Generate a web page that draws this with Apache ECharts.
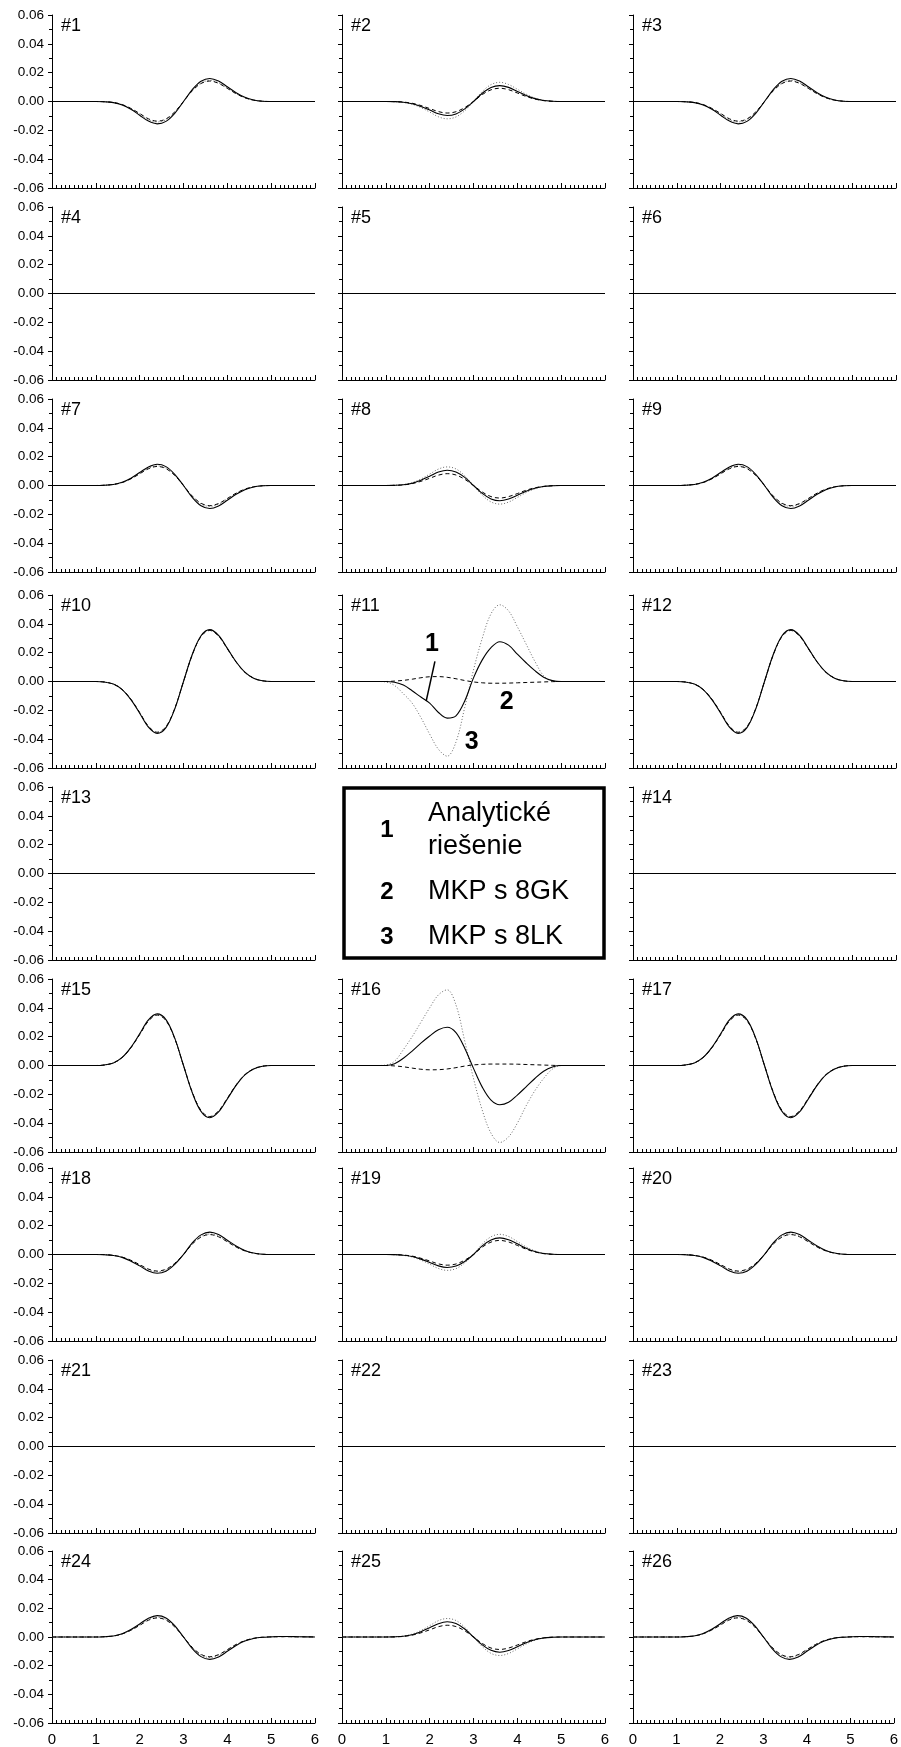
<!DOCTYPE html>
<html>
<head>
<meta charset="utf-8">
<script src="https://cdn.jsdelivr.net/npm/echarts@6/dist/echarts.min.js"></script>
<style>
  html, body { margin: 0; padding: 0; background: #fff; }
  #chart { width: 901px; height: 1747px; }
</style>
</head>
<body>
<div id="chart"></div>
<script>
// Sample positions along the beam (x from 0 to 6, step 0.2)
const X = [0, 0.2, 0.4, 0.6, 0.8, 1.0, 1.2, 1.4, 1.6, 1.8, 2.0, 2.2, 2.4, 2.6, 2.8, 3.0,
           3.2, 3.4, 3.6, 3.8, 4.0, 4.2, 4.4, 4.6, 4.8, 5.0, 5.2, 5.4, 5.6, 5.8, 6.0];

const ZERO = [0,0,0,0,0,0,0,0,0,0,0,0,0,0,0,0,0,0,0,0,0,0,0,0,0,0,0,0,0,0,0];

// Panels #1, #3
const ROW1_AN = [0,0,0,0,0,0, -0.0002,-0.0008,-0.0024,-0.0054,-0.0095,-0.0136,-0.0155,-0.0138,-0.0082,0.0000,
                 0.0083,0.0141,0.0160,0.0142,0.0102,0.0061,0.0029,0.0010,0.0002,0, 0,0,0,0,0];
const ROW1_GK = [0,0,0,0,0,0, -0.0002,-0.0007,-0.0021,-0.0048,-0.0083,-0.0120,-0.0136,-0.0121,-0.0072,0.0000,
                 0.0074,0.0125,0.0142,0.0126,0.0091,0.0054,0.0026,0.0009,0.0002,0, 0,0,0,0,0];
const ROW1_LK = [0,0,0,0,0,0, -0.0002,-0.0007,-0.0022,-0.0050,-0.0087,-0.0125,-0.0142,-0.0126,-0.0075,0.0000,
                 0.0076,0.0128,0.0146,0.0130,0.0093,0.0055,0.0026,0.0009,0.0002,0, 0,0,0,0,0];

// Panel #2
const P2_AN = [0,0,0,0,0,0, -0.0001,-0.0005,-0.0015,-0.0034,-0.0059,-0.0085,-0.0097,-0.0086,-0.0051,0.0000,
               0.0057,0.0097,0.0110,0.0098,0.0070,0.0042,0.0020,0.0007,0.0002,0, 0,0,0,0,0];
const P2_GK = [0,0,0,0,0,0, -0.0001,-0.0004,-0.0012,-0.0028,-0.0049,-0.0070,-0.0080,-0.0071,-0.0042,0.0000,
               0.0048,0.0081,0.0092,0.0082,0.0059,0.0035,0.0017,0.0006,0.0001,0, 0,0,0,0,0];
const P2_LK = [0,0,0,0,0,0, -0.0001,-0.0006,-0.0019,-0.0042,-0.0073,-0.0106,-0.0120,-0.0107,-0.0064,0.0000,
               0.0069,0.0117,0.0133,0.0118,0.0085,0.0051,0.0024,0.0009,0.0002,0, 0,0,0,0,0];

// Panels #7, #9
const ROW3_AN = [0,0,0,0,0,0, 0.0002,0.0007,0.0023,0.0051,0.0090,0.0129,0.0147,0.0131,0.0078,0.0000,
                 -0.0083,-0.0141,-0.0160,-0.0142,-0.0102,-0.0061,-0.0029,-0.0010,-0.0002,0, 0,0,0,0,0];
const ROW3_GK = [0,0,0,0,0,0, 0.0002,0.0007,0.0020,0.0046,0.0081,0.0116,0.0132,0.0117,0.0070,0.0000,
                 -0.0073,-0.0123,-0.0140,-0.0125,-0.0090,-0.0053,-0.0025,-0.0009,-0.0002,0, 0,0,0,0,0];
const ROW3_LK = [0,0,0,0,0,0, 0.0002,0.0007,0.0021,0.0048,0.0083,0.0120,0.0136,0.0121,0.0072,0.0000,
                 -0.0075,-0.0128,-0.0145,-0.0129,-0.0093,-0.0055,-0.0026,-0.0009,-0.0002,0, 0,0,0,0,0];

// Panels #8, #25
const P8_AN = [0,0,0,0,0,0, 0.0001,0.0005,0.0016,0.0037,0.0065,0.0093,0.0106,0.0094,0.0056,0.0000,
               -0.0055,-0.0093,-0.0106,-0.0094,-0.0068,-0.0040,-0.0019,-0.0007,-0.0002,0, 0,0,0,0,0];
const P8_GK = [0,0,0,0,0,0, 0.0001,0.0004,0.0013,0.0029,0.0050,0.0072,0.0082,0.0073,0.0043,0.0000,
               -0.0045,-0.0077,-0.0087,-0.0077,-0.0056,-0.0033,-0.0016,-0.0006,-0.0001,0, 0,0,0,0,0];
const P8_LK = [0,0,0,0,0,0, 0.0002,0.0006,0.0020,0.0045,0.0079,0.0114,0.0129,0.0115,0.0068,0.0000,
               -0.0067,-0.0114,-0.0129,-0.0115,-0.0083,-0.0049,-0.0023,-0.0008,-0.0002,0, 0,0,0,0,0];

// Panels #10, #12
const ROW4_AN = [0,0,0,0,0,0, -0.0004,-0.0018,-0.0056,-0.0126,-0.0220,-0.0317,-0.0360,-0.0320,-0.0191,0.0000,
                 0.0187,0.0317,0.0360,0.0320,0.0230,0.0137,0.0065,0.0023,0.0005,0, 0,0,0,0,0];
const ROW4_GK = [0,0,0,0,0,0, -0.0004,-0.0018,-0.0055,-0.0123,-0.0215,-0.0310,-0.0352,-0.0313,-0.0187,0.0000,
                 0.0184,0.0312,0.0354,0.0315,0.0227,0.0135,0.0064,0.0023,0.0005,0, 0,0,0,0,0];
const ROW4_LK = [0,0,0,0,0,0, -0.0004,-0.0018,-0.0055,-0.0125,-0.0217,-0.0313,-0.0356,-0.0317,-0.0189,0.0000,
                 0.0186,0.0315,0.0358,0.0319,0.0229,0.0136,0.0064,0.0023,0.0005,0, 0,0,0,0,0];

// Panel #11
const P11_AN = [0,0,0,0,0, 0,-0.0005,-0.0025,-0.0064,-0.0108,-0.0150,-0.0215,-0.0254,-0.0238,-0.0135,0.0025,
                0.0150,0.0235,0.0276,0.0252,0.0190,0.0130,0.0075,0.0030,0.0006,0, 0,0,0,0,0];
const P11_GK = [0,0,0,0,0, 0,0.0003,0.0008,0.0016,0.0026,0.0033,0.0034,0.0029,0.0019,0.0007,-0.0003,
                -0.0009,-0.0012,-0.0012,-0.0011,-0.0009,-0.0007,-0.0005,-0.0003,-0.0001,0, 0,0,0,0,0];
const P11_LK = [0,0,0,0,0, -0.0003,-0.0028,-0.0085,-0.0150,-0.0250,-0.0365,-0.0470,-0.0518,-0.0420,-0.0180,0.0080,
                0.0300,0.0470,0.0532,0.0490,0.0380,0.0260,0.0140,0.0040,0.0005,0, 0,0,0,0,0];

// Panels #15, #17
const ROW6_AN = [0,0,0,0,0,0, 0.0004,0.0018,0.0056,0.0126,0.0220,0.0317,0.0358,0.0318,0.0190,0.0000,
                 -0.0188,-0.0319,-0.0362,-0.0322,-0.0232,-0.0138,-0.0065,-0.0024,-0.0005,0, 0,0,0,0,0];
const ROW6_GK = [0,0,0,0,0,0, 0.0004,0.0018,0.0055,0.0123,0.0214,0.0308,0.0350,0.0311,0.0186,0.0000,
                 -0.0184,-0.0312,-0.0354,-0.0315,-0.0227,-0.0135,-0.0064,-0.0023,-0.0005,0, 0,0,0,0,0];
const ROW6_LK = [0,0,0,0,0,0, 0.0004,0.0018,0.0055,0.0124,0.0217,0.0312,0.0354,0.0315,0.0188,0.0000,
                 -0.0186,-0.0315,-0.0358,-0.0319,-0.0229,-0.0136,-0.0064,-0.0023,-0.0005,0, 0,0,0,0,0];

// Panel #16
const P16_AN = [0,0,0,0,0, 0,0.0012,0.0050,0.0100,0.0155,0.0205,0.0248,0.0265,0.0228,0.0120,-0.0020,
                -0.0150,-0.0240,-0.0272,-0.0255,-0.0205,-0.0148,-0.0090,-0.0040,-0.0010,0, 0,0,0,0,0];
const P16_GK = [0,0,0,0,0, 0,-0.0003,-0.0009,-0.0018,-0.0026,-0.0030,-0.0029,-0.0024,-0.0015,-0.0004,0.0004,
                0.0008,0.0010,0.0010,0.0010,0.0009,0.0007,0.0005,0.0003,0.0001,0, 0,0,0,0,0];
const P16_LK = [0,0,0,0,0, 0.0003,0.0030,0.0110,0.0200,0.0300,0.0400,0.0490,0.0525,0.0420,0.0170,-0.0090,
                -0.0310,-0.0470,-0.0534,-0.0495,-0.0400,-0.0280,-0.0175,-0.0090,-0.0025,0, 0,0,0,0,0];

// Panels #18, #20
const ROW7_AN = [0,0,0,0,0,0, -0.0002,-0.0007,-0.0020,-0.0046,-0.0079,-0.0114,-0.0130,-0.0116,-0.0069,0.0000,
                 0.0081,0.0136,0.0155,0.0138,0.0099,0.0059,0.0028,0.0010,0.0002,0, 0,0,0,0,0];
const ROW7_GK = [0,0,0,0,0,0, -0.0001,-0.0006,-0.0018,-0.0040,-0.0070,-0.0101,-0.0115,-0.0102,-0.0061,0.0000,
                 0.0072,0.0121,0.0138,0.0123,0.0088,0.0052,0.0025,0.0009,0.0002,0, 0,0,0,0,0];
const ROW7_LK = [0,0,0,0,0,0, -0.0001,-0.0006,-0.0019,-0.0042,-0.0073,-0.0106,-0.0120,-0.0107,-0.0064,0.0000,
                 0.0074,0.0125,0.0142,0.0126,0.0091,0.0054,0.0026,0.0009,0.0002,0, 0,0,0,0,0];

// Panel #19
const P19_AN = [0,0,0,0,0,0, -0.0001,-0.0005,-0.0014,-0.0032,-0.0055,-0.0079,-0.0090,-0.0080,-0.0048,0.0000,
                0.0060,0.0101,0.0115,0.0102,0.0074,0.0044,0.0021,0.0007,0.0002,0, 0,0,0,0,0];
const P19_GK = [0,0,0,0,0,0, -0.0001,-0.0004,-0.0011,-0.0026,-0.0045,-0.0065,-0.0074,-0.0066,-0.0039,0.0000,
                0.0051,0.0086,0.0098,0.0087,0.0063,0.0037,0.0018,0.0006,0.0001,0, 0,0,0,0,0];
const P19_LK = [0,0,0,0,0,0, -0.0001,-0.0006,-0.0017,-0.0039,-0.0067,-0.0097,-0.0110,-0.0098,-0.0058,0.0000,
                0.0073,0.0123,0.0140,0.0125,0.0090,0.0053,0.0025,0.0009,0.0002,0, 0,0,0,0,0];

// Panels #24, #26
const ROW9_AN = [0,0,0,0,0,0, 0.0002,0.0007,0.0023,0.0052,0.0091,0.0131,0.0149,0.0133,0.0079,0.0000,
                 -0.0081,-0.0137,-0.0156,-0.0139,-0.0100,-0.0059,-0.0028,-0.0010,-0.0002,0.0001, 0.0003,0.0003,0.0002,0.0001,0];
const ROW9_GK = [0,0,0,0,0,0, 0.0002,0.0007,0.0021,0.0047,0.0081,0.0117,0.0133,0.0118,0.0070,0.0000,
                 -0.0072,-0.0121,-0.0138,-0.0123,-0.0088,-0.0052,-0.0025,-0.0009,-0.0002,0.0001, 0.0002,0.0002,0.0001,0.0001,0];
const ROW9_LK = [0,0,0,0,0,0, 0.0002,0.0007,0.0021,0.0048,0.0084,0.0121,0.0137,0.0122,0.0073,0.0000,
                 -0.0074,-0.0126,-0.0143,-0.0127,-0.0092,-0.0054,-0.0026,-0.0009,-0.0002,0.0001, 0.0002,0.0002,0.0001,0.0001,0];

const Y_TICKS = [-0.06, -0.04, -0.02, 0, 0.02, 0.04, 0.06];
const X_TICKS = [0, 1, 2, 3, 4, 5, 6];

const SERIES_NAMES = ['Analytické riešenie', 'MKP s 8GK', 'MKP s 8LK'];
const LEGEND_NUMS = ['1', '2', '3'];

// Panel layout: label, row, column and the three curves (analytic, GK, LK)
const panels = [
  { label: '#1',  row: 0, col: 0, curves: [ROW1_AN, ROW1_GK, ROW1_LK] },
  { label: '#2',  row: 0, col: 1, curves: [P2_AN, P2_GK, P2_LK] },
  { label: '#3',  row: 0, col: 2, curves: [ROW1_AN, ROW1_GK, ROW1_LK] },
  { label: '#4',  row: 1, col: 0, curves: [ZERO, ZERO, ZERO] },
  { label: '#5',  row: 1, col: 1, curves: [ZERO, ZERO, ZERO] },
  { label: '#6',  row: 1, col: 2, curves: [ZERO, ZERO, ZERO] },
  { label: '#7',  row: 2, col: 0, curves: [ROW3_AN, ROW3_GK, ROW3_LK] },
  { label: '#8',  row: 2, col: 1, curves: [P8_AN, P8_GK, P8_LK] },
  { label: '#9',  row: 2, col: 2, curves: [ROW3_AN, ROW3_GK, ROW3_LK] },
  { label: '#10', row: 3, col: 0, curves: [ROW4_AN, ROW4_GK, ROW4_LK] },
  { label: '#11', row: 3, col: 1, curves: [P11_AN, P11_GK, P11_LK] },
  { label: '#12', row: 3, col: 2, curves: [ROW4_AN, ROW4_GK, ROW4_LK] },
  { label: '#13', row: 4, col: 0, curves: [ZERO, ZERO, ZERO] },
  { label: '#14', row: 4, col: 2, curves: [ZERO, ZERO, ZERO] },
  { label: '#15', row: 5, col: 0, curves: [ROW6_AN, ROW6_GK, ROW6_LK] },
  { label: '#16', row: 5, col: 1, curves: [P16_AN, P16_GK, P16_LK] },
  { label: '#17', row: 5, col: 2, curves: [ROW6_AN, ROW6_GK, ROW6_LK] },
  { label: '#18', row: 6, col: 0, curves: [ROW7_AN, ROW7_GK, ROW7_LK] },
  { label: '#19', row: 6, col: 1, curves: [P19_AN, P19_GK, P19_LK] },
  { label: '#20', row: 6, col: 2, curves: [ROW7_AN, ROW7_GK, ROW7_LK] },
  { label: '#21', row: 7, col: 0, curves: [ZERO, ZERO, ZERO] },
  { label: '#22', row: 7, col: 1, curves: [ZERO, ZERO, ZERO] },
  { label: '#23', row: 7, col: 2, curves: [ZERO, ZERO, ZERO] },
  { label: '#24', row: 8, col: 0, curves: [ROW9_AN, ROW9_GK, ROW9_LK] },
  { label: '#25', row: 8, col: 1, curves: [P8_AN, P8_GK, P8_LK] },
  { label: '#26', row: 8, col: 2, curves: [ROW9_AN, ROW9_GK, ROW9_LK] }
];

// Geometry
const COL_LEFT = [52, 342, 633];
const PLOT_W = 263;
const ROW_TOP = [15, 207, 399, 595, 787, 979, 1168, 1360, 1551];
const PLOT_H = 173;
const LAST_ROW = 8;
const FONT = 'Arial, "Liberation Sans", Helvetica, sans-serif';

const LINE_STYLES = [
  { color: '#000', type: 'solid', width: 1.1, z: 4 },
  { color: '#000', type: [4, 3], width: 1, z: 3 },
  { color: '#6a6a6a', type: [1, 2], width: 1, z: 2 }
];

const grids = [], xAxes = [], yAxes = [], series = [], titles = [];

panels.forEach((p, i) => {
  grids.push({ left: COL_LEFT[p.col], top: ROW_TOP[p.row], width: PLOT_W, height: PLOT_H });
  xAxes.push({
    gridIndex: i, type: 'value', min: X_TICKS[0], max: X_TICKS[X_TICKS.length - 1], interval: 1,
    axisLine: { onZero: false, lineStyle: { color: '#000', width: 1 } },
    axisTick: { inside: true, length: 5, lineStyle: { color: '#000', width: 1 } },
    minorTick: { show: true, splitNumber: 10, length: 3, lineStyle: { color: '#000', width: 1 } },
    splitLine: { show: false },
    axisLabel: { show: p.row === LAST_ROW, margin: 9, fontSize: 15, color: '#000', fontFamily: FONT }
  });
  yAxes.push({
    gridIndex: i, type: 'value', min: Y_TICKS[0], max: Y_TICKS[Y_TICKS.length - 1], interval: 0.02,
    axisLine: { onZero: false, lineStyle: { color: '#000', width: 1 } },
    axisTick: { inside: false, length: 4, lineStyle: { color: '#000', width: 1 } },
    minorTick: { show: true, splitNumber: 2, length: 3, lineStyle: { color: '#000', width: 1 } },
    splitLine: { show: false },
    axisLabel: {
      show: p.col === 0, margin: 8, fontSize: 13.5, color: '#000', fontFamily: FONT,
      formatter: v => v.toFixed(2)
    }
  });
  // draw LK first, then GK, analytic on top
  [2, 1, 0].forEach(k => {
    const st = LINE_STYLES[k];
    series.push({
      name: SERIES_NAMES[k], type: 'line', xAxisIndex: i, yAxisIndex: i,
      data: X.map((x, j) => [x, p.curves[k][j]]),
      showSymbol: false, smooth: 0.35, z: st.z, silent: true,
      lineStyle: { color: st.color, type: st.type, width: st.width }
    });
  });
  titles.push({
    text: p.label, left: COL_LEFT[p.col] + 9, top: ROW_TOP[p.row] + 2, padding: 0,
    textStyle: { fontSize: 18, fontWeight: 'normal', color: '#000', fontFamily: FONT }
  });
});

const chart = echarts.init(document.getElementById('chart'), null, { renderer: 'canvas' });
chart.setOption({
  animation: false,
  backgroundColor: '#fff',
  title: titles,
  grid: grids,
  xAxis: xAxes,
  yAxis: yAxes,
  series: series
});

// Legend box in the empty middle cell of row 5
const BOX = { x: 344, y: 788, w: 260, h: 170 };
const legendEls = [
  { type: 'rect', shape: { x: BOX.x, y: BOX.y, width: BOX.w, height: BOX.h },
    style: { fill: '#fff', stroke: '#000', lineWidth: 3.5 }, z: 10 }
];
const LEGEND_ROWS = [
  { num: LEGEND_NUMS[0], lines: ['Analytické', 'riešenie'], cy: 830 },
  { num: LEGEND_NUMS[1], lines: ['MKP s 8GK'], cy: 892 },
  { num: LEGEND_NUMS[2], lines: ['MKP s 8LK'], cy: 937 }
];
LEGEND_ROWS.forEach(r => {
  legendEls.push({
    type: 'text', z: 11,
    style: { text: r.num, x: 387, y: r.cy, textAlign: 'center', textVerticalAlign: 'middle',
             font: 'bold 24px ' + FONT, fill: '#000' }
  });
  const lh = 33;
  r.lines.forEach((t, j) => {
    legendEls.push({
      type: 'text', z: 11,
      style: { text: t, x: 428, y: r.cy + (j - (r.lines.length - 1) / 2) * lh,
               textAlign: 'left', textVerticalAlign: 'middle', font: '27px ' + FONT, fill: '#000' }
    });
  });
});

// Curve numbers inside panel #11, placed in data coordinates
const idx11 = panels.findIndex(p => p.label === '#11');
const ANNOT = [
  { text: '1', x: 2.05, y: 0.0262 },
  { text: '2', x: 3.76, y: -0.0141 },
  { text: '3', x: 2.96, y: -0.0417 }
];
const LEADER = [[2.12, 0.0140], [1.92, -0.0136]];
ANNOT.forEach(a => {
  const pt = chart.convertToPixel({ gridIndex: idx11 }, [a.x, a.y]);
  legendEls.push({
    type: 'text', z: 11,
    style: { text: a.text, x: pt[0], y: pt[1], textAlign: 'center', textVerticalAlign: 'middle',
             font: 'bold 25px ' + FONT, fill: '#000' }
  });
});
const l0 = chart.convertToPixel({ gridIndex: idx11 }, LEADER[0]);
const l1 = chart.convertToPixel({ gridIndex: idx11 }, LEADER[1]);
legendEls.push({
  type: 'line', z: 11,
  shape: { x1: l0[0], y1: l0[1], x2: l1[0], y2: l1[1] },
  style: { stroke: '#000', lineWidth: 1.5 }
});

chart.setOption({ graphic: legendEls });
</script>
</body>
</html>
